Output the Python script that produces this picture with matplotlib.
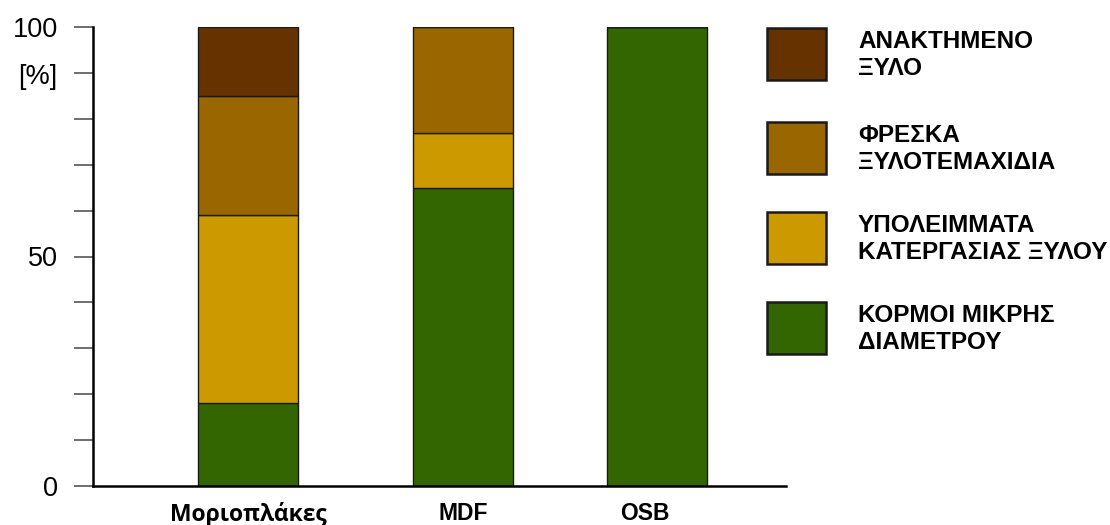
import matplotlib
matplotlib.use("Agg")
import matplotlib.pyplot as plt
from matplotlib.patches import Rectangle

plt.rcParams.update({"font.family": ["Liberation Sans", "DejaVu Sans"]})

products = ["Μοριοπλάκες", "MDF", "OSB"]
# shares in %, stacked bottom to top
small_logs = [18, 65, 100]
residues = [41, 12, 0]
fresh_chips = [26, 23, 0]
recovered = [15, 0, 0]

series = [small_logs, residues, fresh_chips, recovered]
colors = ["#336600", "#cc9900", "#996600", "#663300"]
legend_labels = [
    "ΑΝΑΚΤΗΜΕΝΟ\nΞΥΛΟ",
    "ΦΡΕΣΚΑ\nΞΥΛΟΤΕΜΑΧΙΔΙΑ",
    "ΥΠΟΛΕΙΜΜΑΤΑ\nΚΑΤΕΡΓΑΣΙΑΣ ΞΥΛΟΥ",
    "ΚΟΡΜΟΙ ΜΙΚΡΗΣ\nΔΙΑΜΕΤΡΟΥ",
]
legend_colors = ["#663300", "#996600", "#cc9900", "#336600"]

W, H = 1110, 525
fig = plt.figure(figsize=(W / 100, H / 100), dpi=100)
ax = fig.add_axes([93 / W, 1 - 486 / H, (786 - 93) / W, (486 - 27) / H])

xpos = [1.55, 3.70, 5.64]
label_x = [1.55, 3.70, 5.515]
bottom = [0, 0, 0]
for vals, col in zip(series, colors):
    ax.bar(xpos, vals, width=1.0, bottom=bottom, color=col,
           edgecolor="#1a1a1a", linewidth=1.0, zorder=2)
    bottom = [b + v for b, v in zip(bottom, vals)]

ax.set_xlim(0, 6.93)
ax.set_ylim(0, 100)
for s in ("top", "right"):
    ax.spines[s].set_visible(False)
for s in ("left", "bottom"):
    ax.spines[s].set_linewidth(1.8)
    ax.spines[s].set_color("black")

ax.set_yticks(range(0, 101, 10))
ax.set_yticklabels(["0", "", "", "", "", "50", "", "", "", "", "100"])
ax.tick_params(axis="y", length=14, width=1.2, color="#555555",
               labelsize=19.5, pad=11)
ax.text(-0.36, 89, "[%]", ha="right", va="center", fontsize=19.5)

ax.set_xticks([])
for x, name in zip(label_x, products):
    fam = ["Open Sans", "DejaVu Sans"] if name == products[0] else None
    size = 16.5
    ax.text(x, -3.5, name, ha="center", va="top", fontsize=size,
            fontweight="bold", family=fam)

# legend drawn by hand in pixel units
sq_y = [28, 122, 212, 302]
for y, lab, col in zip(sq_y, legend_labels, legend_colors):
    fig.patches.append(Rectangle((767 / W, 1 - (y + 52) / H), 59 / W, 52 / H,
                                 transform=fig.transFigure, facecolor=col,
                                 edgecolor="#1a1a1a", linewidth=1.8))
    fig.text(858 / W, 1 - (y + 27) / H, lab, ha="left", va="center",
             fontsize=17.5, fontweight="bold", linespacing=1.22)

fig.savefig("out.png", dpi=100, facecolor="white")
